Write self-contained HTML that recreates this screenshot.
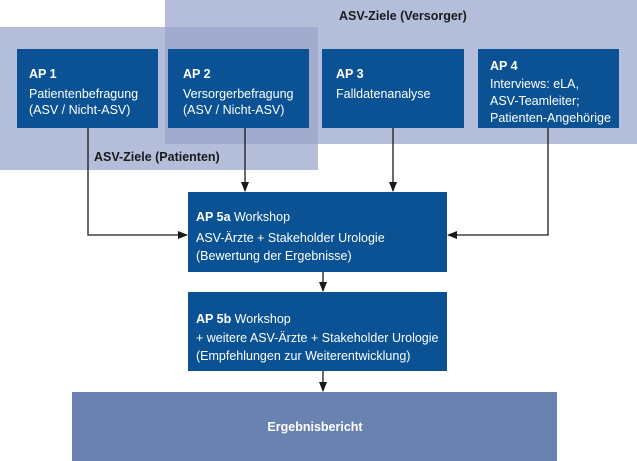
<!DOCTYPE html>
<html><head><meta charset="utf-8"><style>
html,body{margin:0;padding:0;background:#fff;}
svg{display:block;}
text{font-family:"Liberation Sans",sans-serif;font-size:12.5px;fill:#fff;}
.b{font-weight:bold;}
.d{fill:#1a1a1a;}
</style></head><body>
<svg width="637" height="461" viewBox="0 0 637 461">
<defs><marker id="a" markerWidth="10" markerHeight="8" refX="9" refY="4" orient="auto" markerUnits="userSpaceOnUse"><path d="M0,0 L10,4 L0,8 z" fill="#1a1a1a"/></marker></defs>
<rect x="165" y="0" width="472" height="144" fill="#b4bedb"/>
<rect x="0" y="27" width="318" height="143" fill="#b4bedb"/>
<rect x="165" y="27" width="153" height="117" fill="#a0abcd"/>
<text class="b d" x="339" y="20">ASV-Ziele (Versorger)</text>
<text class="b d" x="94" y="161">ASV-Ziele (Patienten)</text>
<rect x="17" y="49" width="141" height="79" fill="#0a5293"/>
<rect x="168" y="49" width="141" height="79" fill="#0a5293"/>
<rect x="322" y="49" width="142" height="79" fill="#0a5293"/>
<rect x="478" y="49" width="141" height="79" fill="#0a5293"/>
<text class="b" x="29" y="78">AP 1</text>
<text x="29" y="98">Patientenbefragung</text>
<text x="29" y="114">(ASV / Nicht-ASV)</text>
<text class="b" x="183" y="78">AP 2</text>
<text x="183" y="98">Versorgerbefragung</text>
<text x="183" y="114">(ASV / Nicht-ASV)</text>
<text class="b" x="336" y="78">AP 3</text>
<text x="336" y="98">Falldatenanalyse</text>
<text class="b" x="490" y="70">AP 4</text>
<text x="490" y="88">Interviews: eLA,</text>
<text x="490" y="105">ASV-Teamleiter;</text>
<text x="490" y="122">Patienten-Angehörige</text>
<rect x="188" y="192" width="259" height="80" fill="#0a5293"/>
<rect x="188" y="292" width="259" height="79" fill="#0a5293"/>
<rect x="72" y="392" width="485" height="69" fill="#6a82b0"/>
<text x="196" y="221"><tspan class="b">AP 5a</tspan> Workshop</text>
<text x="196" y="242">ASV-Ärzte + Stakeholder Urologie</text>
<text x="196" y="260">(Bewertung der Ergebnisse)</text>
<text x="196" y="323"><tspan class="b">AP 5b</tspan> Workshop</text>
<text x="196" y="342">+ weitere ASV-Ärzte + Stakeholder Urologie</text>
<text x="196" y="360">(Empfehlungen zur Weiterentwicklung)</text>
<text class="b" x="315" y="431" text-anchor="middle">Ergebnisbericht</text>
<g stroke="#1a1a1a" stroke-width="1.3" fill="none">
<path d="M88,128 V235 H187" marker-end="url(#a)"/>
<path d="M245,128 V191" marker-end="url(#a)"/>
<path d="M393,128 V191" marker-end="url(#a)"/>
<path d="M548,128 V235 H448" marker-end="url(#a)"/>
<path d="M323,272 V291" marker-end="url(#a)"/>
<path d="M323,371 V391" marker-end="url(#a)"/>
</g>
</svg>
</body></html>
